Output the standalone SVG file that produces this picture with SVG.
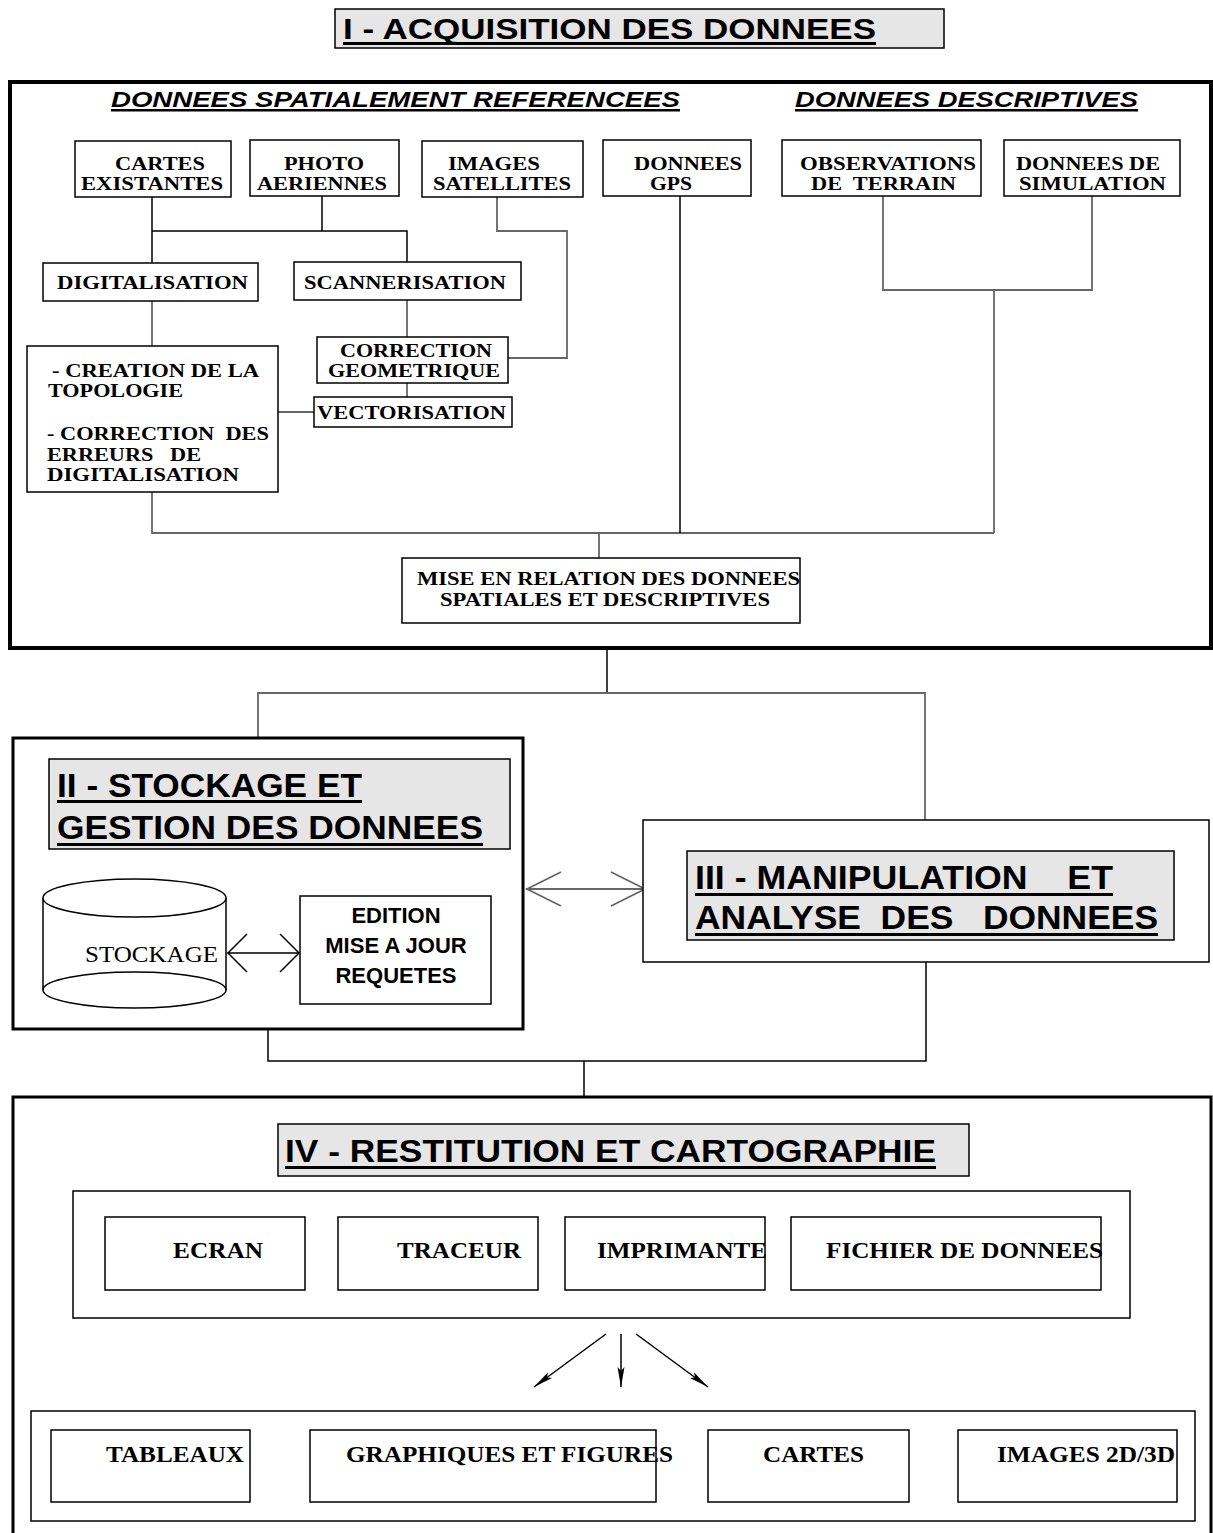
<svg xmlns="http://www.w3.org/2000/svg" width="1213" height="1533" viewBox="0 0 1213 1533">
<style>
.bg{fill:#fff}
.box{fill:#fff;stroke:#000;stroke-width:1.5}
.thick{fill:none;stroke:#000;stroke-width:4}
.med{fill:none;stroke:#000;stroke-width:3}
.title{fill:#e6e6e6;stroke:#000;stroke-width:1.5}
.ln{fill:none;stroke:#000;stroke-width:1.5}
.gl{fill:none;stroke:#666;stroke-width:1.8}
.sf{font-family:"Liberation Serif",serif;font-weight:bold;font-size:19px;fill:#000}
.sfl{font-family:"Liberation Serif",serif;font-weight:bold;font-size:23px;fill:#000}
.ss{font-family:"Liberation Sans",sans-serif;font-weight:bold;fill:#000}
.hd{font-family:"Liberation Sans",sans-serif;font-weight:bold;font-style:italic;font-size:22px;fill:#000}
.ul{fill:#000}
</style>
<defs>
<marker id="fa" viewBox="0 0 20 8" refX="20" refY="4" markerWidth="20" markerHeight="8" markerUnits="userSpaceOnUse" orient="auto">
<path d="M0,0.5 L20,4 L0,7.5 L4,4 Z" fill="#000"/>
</marker>
</defs>
<rect class="bg" x="0" y="0" width="1213" height="1533"/>

<!-- Section I -->
<g id="title-I">
<rect class="title" x="335" y="9" width="609" height="39"/>
<text class="ss" x="343" y="39" font-size="29" textLength="533" lengthAdjust="spacingAndGlyphs">I - ACQUISITION DES DONNEES</text>
<rect class="ul" x="343" y="42" width="533" height="3"/>
</g>
<g id="section-I">
<rect class="thick" x="10" y="82" width="1201" height="566"/>
<text class="hd" x="111" y="107" textLength="569" lengthAdjust="spacingAndGlyphs">DONNEES SPATIALEMENT REFERENCEES</text>
<rect class="ul" x="111" y="109" width="569" height="2.5"/>
<text class="hd" x="795" y="107" textLength="343" lengthAdjust="spacingAndGlyphs">DONNEES DESCRIPTIVES</text>
<rect class="ul" x="795" y="109" width="343" height="2.5"/>
</g>

<g id="connectors">
<path class="ln" d="M152,197 V263 M152,231 H407 V262 M322,196 V231"/>
<path class="gl" d="M497,197 V231 H567 V358 H508"/>
<path class="gl" d="M152,301 V346"/>
<path class="gl" d="M407,300 V337 M407,383 V397"/>
<path class="gl" d="M278,412 H314"/>
<path class="gl" d="M152,492 V533 H994"/>
<path class="ln" d="M680,196 V533"/>
<path class="gl" d="M883,196 V290 H1092 V196"/>
<path class="gl" d="M994,290 V533"/>
<path class="gl" d="M599,533 V558"/>
<path class="ln" d="M607,648 V693"/>
<path class="gl" d="M258,738 V693 H925 V820"/>
<path class="gl" d="M526,889 H645 M561,872 L527,889 L561,906 M611,872 L645,889 L611,906"/>
<path class="ln" d="M227,953 H299 M247,934 L228,953 L247,972 M280,934 L299,953 L280,972"/>
<path class="ln" d="M926,962 V1061 H268 V1029 M584,1061 V1097"/>
<path class="ln" stroke-width="2" d="M606,1334 L534,1387" marker-end="url(#fa)"/>
<path class="ln" stroke-width="2" d="M621,1334 L621,1387" marker-end="url(#fa)"/>
<path class="ln" stroke-width="2" d="M636,1334 L708,1387" marker-end="url(#fa)"/>
</g>

<g id="cartes-existantes">
<rect class="box" x="75" y="141" width="156" height="56"/>
<text class="sf" x="115" y="170" textLength="90" lengthAdjust="spacingAndGlyphs">CARTES</text>
<text class="sf" x="81" y="190" textLength="142" lengthAdjust="spacingAndGlyphs">EXISTANTES</text>
</g>
<g id="photo-aeriennes">
<rect class="box" x="250" y="140" width="149" height="56"/>
<text class="sf" x="284" y="170" textLength="80" lengthAdjust="spacingAndGlyphs">PHOTO</text>
<text class="sf" x="257" y="190" textLength="130" lengthAdjust="spacingAndGlyphs">AERIENNES</text>
</g>
<g id="images-satellites">
<rect class="box" x="422" y="141" width="161" height="56"/>
<text class="sf" x="448" y="170" textLength="92" lengthAdjust="spacingAndGlyphs">IMAGES</text>
<text class="sf" x="433" y="190" textLength="138" lengthAdjust="spacingAndGlyphs">SATELLITES</text>
</g>
<g id="donnees-gps">
<rect class="box" x="603" y="140" width="148" height="56"/>
<text class="sf" x="634" y="170" textLength="108" lengthAdjust="spacingAndGlyphs">DONNEES</text>
<text class="sf" x="650" y="190" textLength="42" lengthAdjust="spacingAndGlyphs">GPS</text>
</g>
<g id="observations-terrain">
<rect class="box" x="782" y="140" width="199" height="56"/>
<text class="sf" x="800" y="170" textLength="176" lengthAdjust="spacingAndGlyphs">OBSERVATIONS</text>
<text class="sf" x="811" y="190" xml:space="preserve" textLength="145" lengthAdjust="spacingAndGlyphs">DE  TERRAIN</text>
</g>
<g id="donnees-simulation">
<rect class="box" x="1004" y="140" width="176" height="56"/>
<text class="sf" x="1016" y="170" textLength="144" lengthAdjust="spacingAndGlyphs">DONNEES DE</text>
<text class="sf" x="1019" y="190" textLength="147" lengthAdjust="spacingAndGlyphs">SIMULATION</text>
</g>
<g id="digitalisation">
<rect class="box" x="43" y="263" width="215" height="38"/>
<text class="sf" x="57" y="289" textLength="191" lengthAdjust="spacingAndGlyphs">DIGITALISATION</text>
</g>
<g id="scannerisation">
<rect class="box" x="294" y="262" width="227" height="38"/>
<text class="sf" x="304" y="289" textLength="202" lengthAdjust="spacingAndGlyphs">SCANNERISATION</text>
</g>
<g id="creation-topologie">
<rect class="box" x="27" y="346" width="251" height="146"/>
<text class="sf" x="52" y="377" textLength="207" lengthAdjust="spacingAndGlyphs">- CREATION DE LA</text>
<text class="sf" x="48" y="397" textLength="135" lengthAdjust="spacingAndGlyphs">TOPOLOGIE</text>
<text class="sf" x="47" y="440" xml:space="preserve" textLength="222" lengthAdjust="spacingAndGlyphs">- CORRECTION  DES</text>
<text class="sf" x="47" y="461" xml:space="preserve" textLength="154" lengthAdjust="spacingAndGlyphs">ERREURS   DE</text>
<text class="sf" x="47" y="481" textLength="192" lengthAdjust="spacingAndGlyphs">DIGITALISATION</text>
</g>
<g id="correction-geometrique">
<rect class="box" x="317" y="337" width="191" height="46"/>
<text class="sf" x="340" y="357" textLength="152" lengthAdjust="spacingAndGlyphs">CORRECTION</text>
<text class="sf" x="328" y="377" textLength="172" lengthAdjust="spacingAndGlyphs">GEOMETRIQUE</text>
</g>
<g id="vectorisation">
<rect class="box" x="314" y="397" width="198" height="30"/>
<text class="sf" x="317" y="419" textLength="189" lengthAdjust="spacingAndGlyphs">VECTORISATION</text>
</g>
<g id="mise-en-relation">
<rect class="box" x="402" y="558" width="398" height="65"/>
<text class="sf" x="417" y="585" textLength="383" lengthAdjust="spacingAndGlyphs">MISE EN RELATION DES DONNEES</text>
<text class="sf" x="440" y="606" textLength="330" lengthAdjust="spacingAndGlyphs">SPATIALES ET DESCRIPTIVES</text>
</g>

<!-- Section II -->
<g id="section-II">
<rect class="med" x="13" y="738" width="510" height="291"/>
<rect class="title" x="49" y="759" width="461" height="90"/>
<text class="ss" x="57" y="797" font-size="33" textLength="305" lengthAdjust="spacingAndGlyphs">II - STOCKAGE ET</text>
<rect class="ul" x="57" y="800" width="305" height="3"/>
<text class="ss" x="57" y="839" font-size="33" textLength="426" lengthAdjust="spacingAndGlyphs">GESTION DES DONNEES</text>
<rect class="ul" x="57" y="843" width="426" height="3"/>
</g>
<g id="stockage">
<path d="M43,898 V990 A91.5,18 0 0 0 226,990 V898" fill="#fff" stroke="#000" stroke-width="1.5"/>
<ellipse cx="134.5" cy="898" rx="91.5" ry="19" fill="#fff" stroke="#000" stroke-width="1.5"/>
<path d="M43,990 A91.5,18 0 0 1 226,990" fill="none" stroke="#000" stroke-width="1.5"/>
<text x="85" y="962" font-family="Liberation Serif, serif" font-size="23" textLength="133" lengthAdjust="spacingAndGlyphs">STOCKAGE</text>
</g>
<g id="edition">
<rect class="box" x="300" y="896" width="191" height="108"/>
<text class="ss" x="396" y="923" font-size="22" text-anchor="middle">EDITION</text>
<text class="ss" x="396" y="953" font-size="22" text-anchor="middle">MISE A JOUR</text>
<text class="ss" x="396" y="983" font-size="22" text-anchor="middle">REQUETES</text>
</g>

<!-- Section III -->
<g id="section-III">
<rect class="box" x="643" y="820" width="566" height="142"/>
<rect class="title" x="687" y="851" width="487" height="89"/>
<text class="ss" x="695" y="889" font-size="33" xml:space="preserve" textLength="418" lengthAdjust="spacingAndGlyphs">III - MANIPULATION    ET</text>
<rect class="ul" x="695" y="893" width="418" height="3"/>
<text class="ss" x="695" y="929" font-size="33" xml:space="preserve" textLength="463" lengthAdjust="spacingAndGlyphs">ANALYSE  DES   DONNEES</text>
<rect class="ul" x="695" y="933" width="463" height="3"/>
</g>

<!-- Section IV -->
<g id="section-IV">
<rect class="med" x="13" y="1097" width="1198" height="438"/>
<rect class="title" x="278" y="1124" width="691" height="52"/>
<text class="ss" x="285" y="1162" font-size="31" textLength="651" lengthAdjust="spacingAndGlyphs">IV - RESTITUTION ET CARTOGRAPHIE</text>
<rect class="ul" x="285" y="1166" width="651" height="3"/>
<rect class="box" x="73" y="1191" width="1057" height="127"/>
<rect class="box" x="31" y="1411" width="1164" height="110"/>
</g>
<g id="ecran">
<rect class="box" x="105" y="1217" width="200" height="73"/>
<text class="sfl" x="173" y="1258" textLength="90" lengthAdjust="spacingAndGlyphs">ECRAN</text>
</g>
<g id="traceur">
<rect class="box" x="338" y="1217" width="200" height="73"/>
<text class="sfl" x="397" y="1258" textLength="124" lengthAdjust="spacingAndGlyphs">TRACEUR</text>
</g>
<g id="imprimante">
<rect class="box" x="565" y="1217" width="200" height="73"/>
<text class="sfl" x="597" y="1258" textLength="170" lengthAdjust="spacingAndGlyphs">IMPRIMANTE</text>
</g>
<g id="fichier">
<rect class="box" x="791" y="1217" width="310" height="73"/>
<text class="sfl" x="826" y="1258" textLength="277" lengthAdjust="spacingAndGlyphs">FICHIER DE DONNEES</text>
</g>
<g id="tableaux">
<rect class="box" x="51" y="1430" width="199" height="72"/>
<text class="sfl" x="106" y="1462" textLength="138" lengthAdjust="spacingAndGlyphs">TABLEAUX</text>
</g>
<g id="graphiques">
<rect class="box" x="310" y="1430" width="346" height="72"/>
<text class="sfl" x="346" y="1462" textLength="327" lengthAdjust="spacingAndGlyphs">GRAPHIQUES ET FIGURES</text>
</g>
<g id="cartes">
<rect class="box" x="708" y="1430" width="201" height="72"/>
<text class="sfl" x="763" y="1462" textLength="101" lengthAdjust="spacingAndGlyphs">CARTES</text>
</g>
<g id="images-2d3d">
<rect class="box" x="958" y="1430" width="219" height="72"/>
<text class="sfl" x="997" y="1462" textLength="178" lengthAdjust="spacingAndGlyphs">IMAGES 2D/3D</text>
</g>
</svg>
